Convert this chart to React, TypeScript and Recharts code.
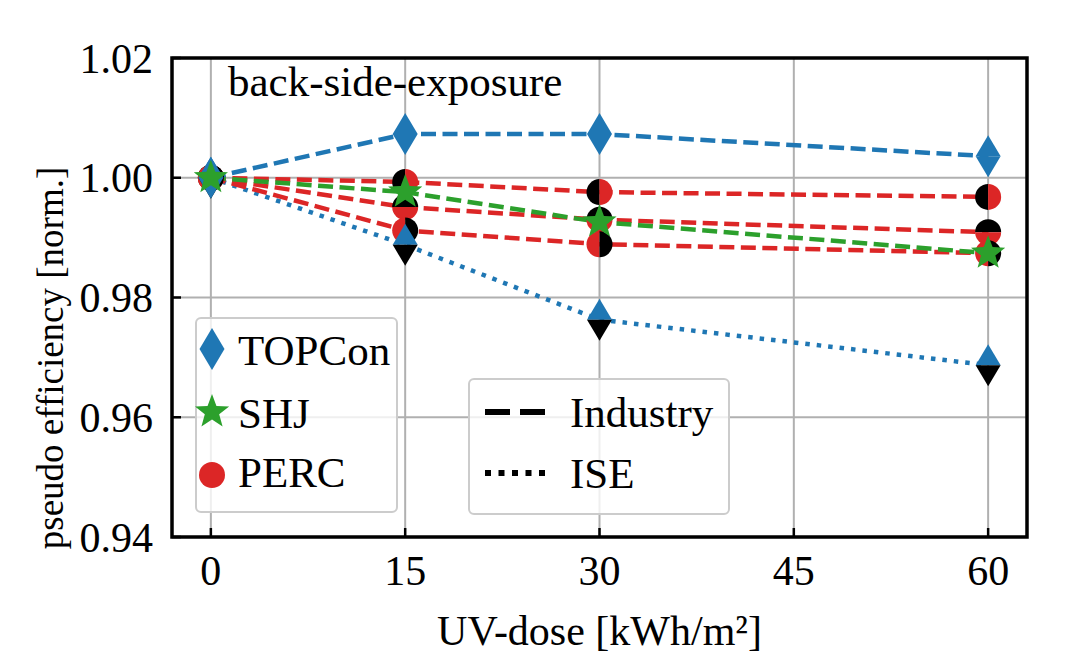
import React from 'react'
import {
    ComposedChart,
    Line,
    XAxis,
    YAxis,
    CartesianGrid,
    ReferenceArea,
} from 'recharts'

// UV dose steps [kWh/m²]
const doses = [0, 15, 30, 60]
const xTicks = [0, 15, 30, 45, 60]
const yTicks = [0.94, 0.96, 0.98, 1.0, 1.02]

// normalised pseudo efficiency
const topconIndustry = [1.0, 1.0073, 1.0073, 1.0036]
const topconIse = [1.0, 0.9888, 0.9763, 0.9687]
const shjIndustry = [1.0, 0.9976, 0.9926, 0.9874]
const percA = [1.0, 0.9993, 0.9976, 0.9968]
const percB = [1.0, 0.9951, 0.993, 0.9909]
const percC = [1.0, 0.9912, 0.9889, 0.9874]

const BLUE = '#1f77b4'
const GREEN = '#2ca02c'
const RED = '#dc2626'
const FONT = '"Liberation Serif", "DejaVu Serif", serif'

const data = doses.map((d, i) => ({
    dose: d,
    topconIndustry: topconIndustry[i],
    topconIse: topconIse[i],
    shj: shjIndustry[i],
    percA: percA[i],
    percB: percB[i],
    percC: percC[i],
}))

const R = 13

function HalfCircle({ cx, cy, split, a, b }: { cx: number, cy: number, split: 'lr' | 'tb', a: string, b: string }) {
    if (split === 'lr') {
        return (
            <g>
                <path d={`M${cx},${cy - R} A${R},${R} 0 0 0 ${cx},${cy + R} Z`} fill={a} />
                <path d={`M${cx},${cy - R} A${R},${R} 0 0 1 ${cx},${cy + R} Z`} fill={b} />
            </g>
        )
    }
    return (
        <g>
            <path d={`M${cx - R},${cy} A${R},${R} 0 0 1 ${cx + R},${cy} Z`} fill={a} />
            <path d={`M${cx - R},${cy} A${R},${R} 0 0 0 ${cx + R},${cy} Z`} fill={b} />
        </g>
    )
}

function Diamond({ cx, cy, top, bottom }: { cx: number, cy: number, top: string, bottom: string }) {
    const w = 12.5, h = 21
    return (
        <g>
            <path d={`M${cx - w},${cy} L${cx},${cy - h} L${cx + w},${cy} Z`} fill={top} />
            <path d={`M${cx - w},${cy} L${cx},${cy + h} L${cx + w},${cy} Z`} fill={bottom} />
        </g>
    )
}

function Star({ cx, cy, ro = 18 }: { cx: number, cy: number, ro?: number }) {
    const ri = ro * 0.42
    const pts: string[] = []
    for (let k = 0; k < 10; k++) {
        const r = k % 2 === 0 ? ro : ri
        const ang = -Math.PI / 2 + (k * Math.PI) / 5
        pts.push(`${cx + r * Math.cos(ang)},${cy + r * Math.sin(ang)}`)
    }
    return <polygon points={pts.join(' ')} fill={GREEN} />
}

const dotFn = (render: (cx: number, cy: number) => React.ReactElement) => (p: any) => (
    <g key={`d-${p.index}`}>{render(p.cx, p.cy)}</g>
)

function XTick(props: any) {
    const { x, y, payload } = props
    return (
        <g>
            <line x1={x} x2={x} y1={y - 18} y2={y - 27} stroke="#000" strokeWidth={2.5} />
            <text x={x} y={y} dy="0.71em" textAnchor="middle" fontFamily={FONT} fontSize={42} fill="#000">
                {payload.value}
            </text>
        </g>
    )
}

function YTick(props: any) {
    const { x, y, payload } = props
    return (
        <g>
            <line x1={x + 19} x2={x + 28} y1={y} y2={y} stroke="#000" strokeWidth={2.5} />
            <text x={x} y={y} dy="0.35em" textAnchor="end" fontFamily={FONT} fontSize={42} fill="#000">
                {Number(payload.value).toFixed(2)}
            </text>
        </g>
    )
}

const lineProps = {
    type: 'linear' as const,
    dot: false,
    activeDot: false,
    isAnimationActive: false,
    strokeWidth: 4.5,
}

const markerProps = {
    type: 'linear' as const,
    stroke: 'none',
    activeDot: false,
    isAnimationActive: false,
}

const legendText: React.CSSProperties = {
    fontFamily: FONT,
    fontSize: 43,
    color: '#000',
    position: 'absolute',
    lineHeight: 1,
    whiteSpace: 'nowrap',
}

export default function App() {
    return (
        <div style={{ position: 'relative', width: 1064, height: 659, background: '#fff' }}>
            <ComposedChart
                width={1064}
                height={659}
                data={data}
                margin={{ top: 50, right: 45, bottom: 30, left: 0 }}
            >
                <CartesianGrid stroke="#b0b0b0" strokeWidth={2} />
                <XAxis
                    dataKey="dose"
                    type="number"
                    domain={[-3, 63]}
                    ticks={xTicks}
                    height={100}
                    axisLine={false}
                    tickLine={false}
                    tickSize={0}
                    tickMargin={18}
                    tick={<XTick />}
                    label={{
                        content: (p: any) => (
                            <text
                                x={p.viewBox.x + p.viewBox.width / 2}
                                y={622}
                                dy="0.35em"
                                textAnchor="middle"
                                fontFamily={FONT}
                                fontSize={42}
                                fill="#000"
                            >
                                UV-dose [kWh/m²]
                            </text>
                        ),
                    }}
                />
                <YAxis
                    type="number"
                    domain={[0.94, 1.02]}
                    ticks={yTicks}
                    width={164}
                    axisLine={false}
                    tickLine={false}
                    tickSize={0}
                    tickMargin={19}
                    tick={<YTick />}
                    label={{
                        content: () => (
                            <text
                                x={42}
                                y={350}
                                dy="0.35em"
                                textAnchor="middle"
                                transform="rotate(-90 42 350)"
                                fontFamily={FONT}
                                fontSize={37}
                                fill="#000"
                            >
                                pseudo efficiency [norm.]
                            </text>
                        ),
                    }}
                />
                <ReferenceArea x1={-3} x2={63} y1={0.94} y2={1.02} fill="none" stroke="#000" strokeWidth={3.5} />

                {/* lines */}
                <Line dataKey="topconIse" stroke={BLUE} strokeDasharray="4.5 7" {...lineProps} />
                <Line dataKey="percA" stroke={RED} strokeDasharray="15 6.5" {...lineProps} />
                <Line dataKey="percB" stroke={RED} strokeDasharray="15 6.5" {...lineProps} />
                <Line dataKey="percC" stroke={RED} strokeDasharray="15 6.5" {...lineProps} />
                <Line dataKey="shj" stroke={GREEN} strokeDasharray="15 6.5" {...lineProps} />
                <Line dataKey="topconIndustry" stroke={BLUE} strokeDasharray="15 6.5" {...lineProps} />

                {/* markers */}
                <Line dataKey="percA" {...markerProps}
                    dot={dotFn((cx, cy) => <HalfCircle cx={cx} cy={cy} split="lr" a="#000" b={RED} />)} />
                <Line dataKey="percB" {...markerProps}
                    dot={dotFn((cx, cy) => <HalfCircle cx={cx} cy={cy} split="tb" a="#000" b={RED} />)} />
                <Line dataKey="percC" {...markerProps}
                    dot={dotFn((cx, cy) => <HalfCircle cx={cx} cy={cy} split="lr" a={RED} b="#000" />)} />
                <Line dataKey="topconIse" {...markerProps}
                    dot={dotFn((cx, cy) => <Diamond cx={cx} cy={cy} top={BLUE} bottom="#000" />)} />
                <Line dataKey="topconIndustry" {...markerProps}
                    dot={dotFn((cx, cy) => <Diamond cx={cx} cy={cy} top={BLUE} bottom={BLUE} />)} />
                <Line dataKey="shj" {...markerProps}
                    dot={dotFn((cx, cy) => <Star cx={cx} cy={cy} />)} />
            </ComposedChart>

            <div style={{ ...legendText, left: 220, top: 52 }}>back-side-exposure</div>

            {/* marker legend */}
            <div
                style={{
                    position: 'absolute', left: 187, top: 309, width: 203, height: 196,
                    border: '2px solid #cccccc', borderRadius: 6, background: 'rgba(255,255,255,0.8)',
                    boxSizing: 'border-box',
                }}
            >
                <svg width={203} height={196} style={{ position: 'absolute', left: -2, top: -2 }}>
                    <Diamond cx={17} cy={32} top={BLUE} bottom={BLUE} />
                    <Star cx={17} cy={95} />
                    <circle cx={17} cy={158} r={R} fill={RED} />
                </svg>
                <div style={{ ...legendText, left: 41, top: 10 }}>TOPCon</div>
                <div style={{ ...legendText, left: 41, top: 73 }}>SHJ</div>
                <div style={{ ...legendText, left: 41, top: 132 }}>PERC</div>
            </div>

            {/* line style legend */}
            <div
                style={{
                    position: 'absolute', left: 460, top: 370, width: 262, height: 137,
                    border: '2px solid #cccccc', borderRadius: 6, background: 'rgba(255,255,255,0.8)',
                    boxSizing: 'border-box',
                }}
            >
                <svg width={262} height={137} style={{ position: 'absolute', left: -2, top: -2 }}>
                    <line x1={17} x2={77} y1={34} y2={34} stroke="#000" strokeWidth={6} strokeDasharray="25 10" />
                    <line x1={17} x2={77} y1={95} y2={95} stroke="#000" strokeWidth={6} strokeDasharray="6 7.5" />
                </svg>
                <div style={{ ...legendText, left: 100, top: 11 }}>Industry</div>
                <div style={{ ...legendText, left: 100, top: 72 }}>ISE</div>
            </div>
        </div>
    )
}
